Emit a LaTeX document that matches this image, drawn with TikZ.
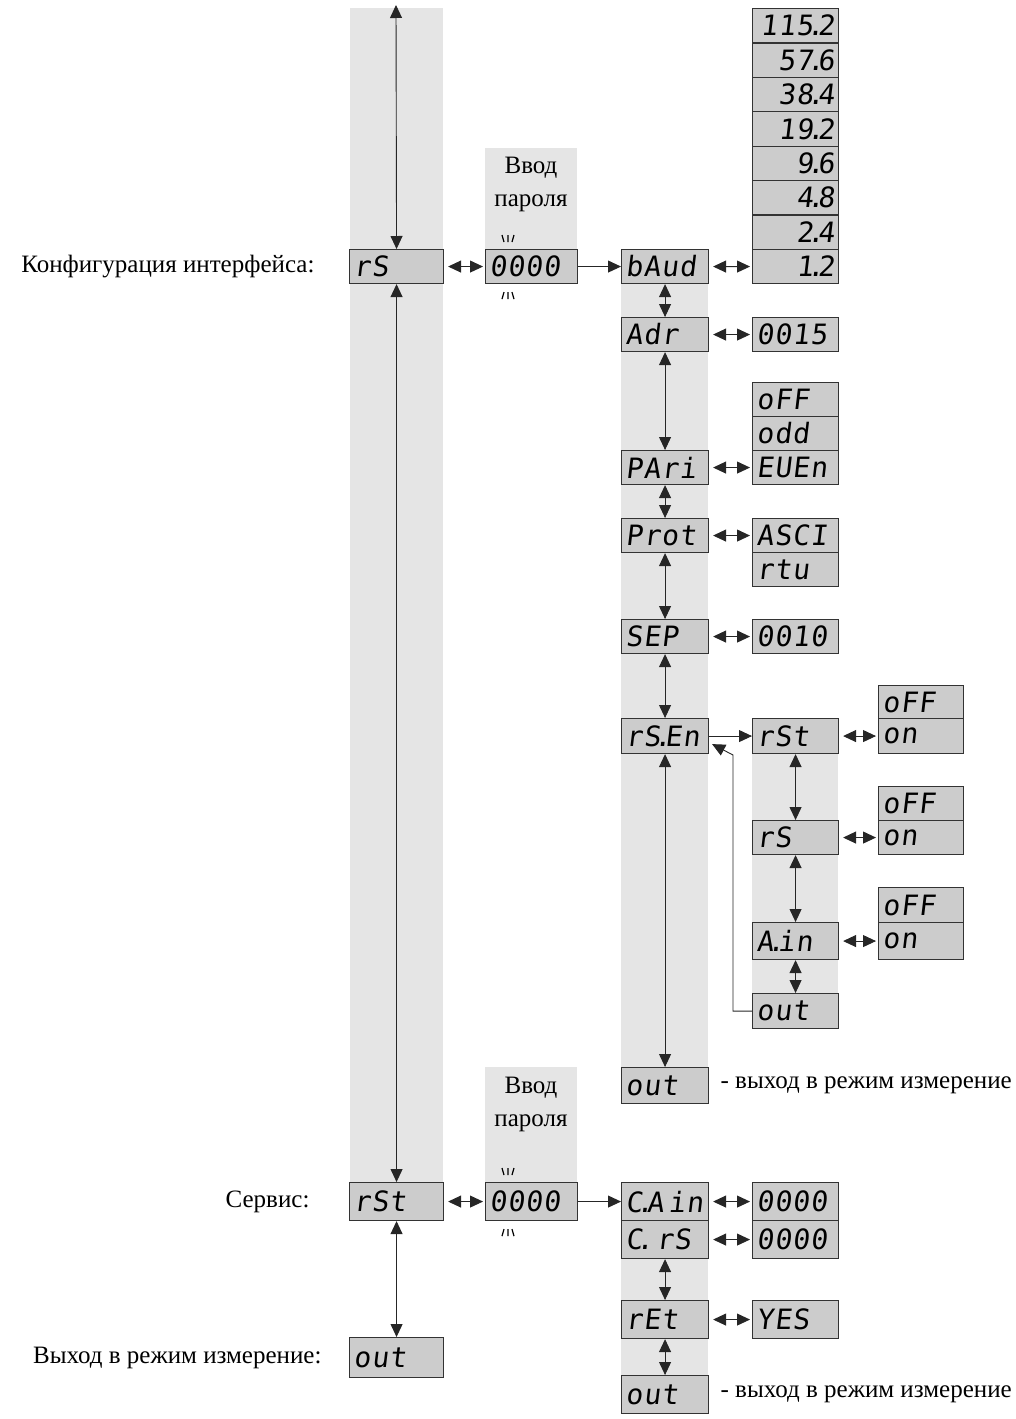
\documentclass[tikz,border=0pt]{standalone}
\usepackage{fontspec}
\setmainfont{Liberation Serif}
\newfontfamily\seg[FakeSlant=0.12,LetterSpace=4]{DejaVu Sans Mono}
\newcommand\sdot{\kern-0.22em.\kern-0.22em}
\usepackage{tikz}
\usetikzlibrary{arrows.meta,positioning,calc}

\definecolor{bandgray}{gray}{0.9}
\definecolor{boxgray}{gray}{0.8}

\begin{document}
\begin{tikzpicture}[x=1pt,y=-1pt,
  disp/.style={draw=black!80,fill=boxgray,line width=1.1pt,anchor=north west,
    minimum height=34pt,inner xsep=4pt,inner ysep=0pt,text width=79pt,
    align=left,font=\seg\fontsize{28}{28}\selectfont},
  num/.style={disp,text width=78pt,align=right},
  val/.style={disp,text width=78pt},
  sw/.style={disp,text width=77pt},
  note/.style={font=\fontsize{25}{33}\selectfont},
  link/.style={line width=0.9pt,draw=black!85,
    {Triangle[length=13pt,width=12pt]}-{Triangle[length=13pt,width=12pt]}},
  hlink/.style={link,shorten <=4pt,shorten >=2pt},
  one/.style={line width=0.9pt,draw=black!85,-{Triangle[length=13pt,width=12pt]}},
  blink/.style={line width=1.2pt}]
  \useasboundingbox (0,0) rectangle (1015,1419);

  % gray bands
  \fill[bandgray] (350,8) rectangle (443,1182);
  \fill[bandgray] (485,148) rectangle (577,249);
  \fill[bandgray] (485,1067) rectangle (577,1182);
  \fill[bandgray] (621,283) rectangle (708,1067);
  \fill[bandgray] (752,753) rectangle (838,993);
  \fill[bandgray] (621,1258) rectangle (708,1375);

  % main menu
  \node[disp,text width=86pt] (rs) at (349,249) {rS};
  \node[disp,text width=86pt,minimum height=38pt] (rst) at (349,1182) {rSt};
  \node[disp,text width=86pt,minimum height=40pt] (quit) at (349,1337) {out};
  \node[note,left=31pt of rs] (lcfg) {Конфигурация интерфейса:};
  \node[note,left=36pt of rst] (lsrv) {Сервис:};
  \node[note,left=24pt of quit] (lquit) {Выход в режим измерение:};
  \coordinate (top) at (396,5);

  % password
  \node[note,align=center] (pwtA) at (531,184) {Ввод\\пароля};
  \node[disp,text width=84pt] (pwA) at (485,249) {0000};
  \node[note,align=center] (pwtB) at (531,1104) {Ввод\\пароля};
  \node[disp,text width=84pt,minimum height=38pt] (pwB) at (485,1182) {0000};
  \foreach \p in {pwA,pwB} {
    \draw[blink] ([shift={(17,-14)}]\p.north west) -- ++(2,7)
      ([shift={(23,-14)}]\p.north west) -- ++(0,7)
      ([shift={(29,-14)}]\p.north west) -- ++(-2,7);
    \draw[blink] ([shift={(19,8)}]\p.south west) -- ++(-2,7)
      ([shift={(23,8)}]\p.south west) -- ++(0,7)
      ([shift={(27,8)}]\p.south west) -- ++(2,7);
  }

  % interface settings
  \node[disp] (baud) at (621,249) {bAud};
  \node[disp] (adr) at (621,317) {Adr};
  \node[disp] (pari) at (621,450) {PAri};
  \node[disp] (prot) at (621,518) {Prot};
  \node[disp] (sep) at (621,619) {SEP};
  \node[disp,minimum height=35pt] (rsen) at (621,718) {rS\sdot En};
  \node[disp,minimum height=36pt] (outA) at (621,1067) {out};
  \node[note,right=8pt of outA] (noteA) {- выход в режим измерение};

  \foreach \v [count=\i] in {115\sdot 2,57\sdot 6,38\sdot 4,19\sdot 2,9\sdot 6,4\sdot 8,2\sdot 4,1\sdot 2}
    \node[num,minimum height=34.4pt] (b\i) at (752,{8+34.4*(\i-1)}) {\v};
  \node[val] (addr) at (752,317) {0015};
  \node[val] (poff) at (752,382) {oFF};
  \node[val] (podd) at (752,416) {odd};
  \node[val] (peven) at (752,450) {EUEn};
  \node[val] (ascii) at (752,518) {ASCI};
  \node[val] (rtu) at (752,552) {rtu};
  \node[val] (sepv) at (752,619) {0010};

  % rS.En submenu
  \node[val,minimum height=35pt] (enrst) at (752,718) {rSt};
  \node[val] (enrs) at (752,820) {rS};
  \node[val,minimum height=37pt] (enain) at (752,922) {A\sdot in};
  \node[val,minimum height=35pt] (enout) at (752,993) {out};
  \node[sw,minimum height=33pt] (offA) at (878,685) {oFF};
  \node[sw,minimum height=35pt] (onA) at (878,718) {on};
  \node[sw] (offB) at (878,786) {oFF};
  \node[sw] (onB) at (878,820) {on};
  \node[sw,minimum height=35pt] (offC) at (878,887) {oFF};
  \node[sw,minimum height=37pt] (onC) at (878,922) {on};
  \coordinate (bend) at (733,755);

  % service
  \node[disp,minimum height=38pt] (cain) at (621,1182) {C\sdot A\,in};
  \node[disp,minimum height=38pt] (crs) at (621,1220) {C\sdot\ rS};
  \node[disp,minimum height=38pt] (ret) at (621,1300) {rEt};
  \node[disp,minimum height=38pt] (outB) at (621,1375) {out};
  \node[note,right=8pt of outB] (noteB) {- выход в режим измерение};
  \node[val,minimum height=38pt] (cainv) at (752,1182) {0000};
  \node[val,minimum height=38pt] (crsv) at (752,1220) {0000};
  \node[val,minimum height=38pt] (yes) at (752,1300) {YES};

  % connectors
  \draw[link] (rs.north) -- (top);
  \draw[link] (rs) -- (rst);
  \draw[link] (rst) -- (quit);
  \draw[hlink] (rs) -- (pwA);
  \draw[one] (pwA) -- (baud);
  \draw[hlink] (baud) -- (b8);
  \draw[link] (baud) -- (adr);
  \draw[link] (adr) -- (pari);
  \draw[link] (pari) -- (prot);
  \draw[link] (prot) -- (sep);
  \draw[link] (sep) -- (rsen);
  \draw[link] (rsen) -- (outA);
  \draw[hlink] (adr) -- (addr);
  \draw[hlink] (pari) -- (peven);
  \draw[hlink] (prot) -- (ascii);
  \draw[hlink] (sep) -- (sepv);
  \draw[one] (rsen) -- (enrst);
  \draw[link] (enrst) -- (enrs);
  \draw[link] (enrs) -- (enain);
  \draw[link] (enain) -- (enout);
  \draw[hlink] (enrst) -- (onA);
  \draw[hlink] (enrs) -- (onB);
  \draw[hlink] (enain) -- (onC);
  \draw[one] (enout.west) -| (bend) -- ([shift={(3,-10)}]rsen.south east);
  \draw[hlink] (rst) -- (pwB);
  \draw[one] (pwB) -- (cain);
  \draw[hlink] (cain) -- (cainv);
  \draw[hlink] (crs) -- (crsv);
  \draw[link] (crs) -- (ret);
  \draw[hlink] (ret) -- (yes);
  \draw[link] (ret) -- (outB);
\end{tikzpicture}
\end{document}
